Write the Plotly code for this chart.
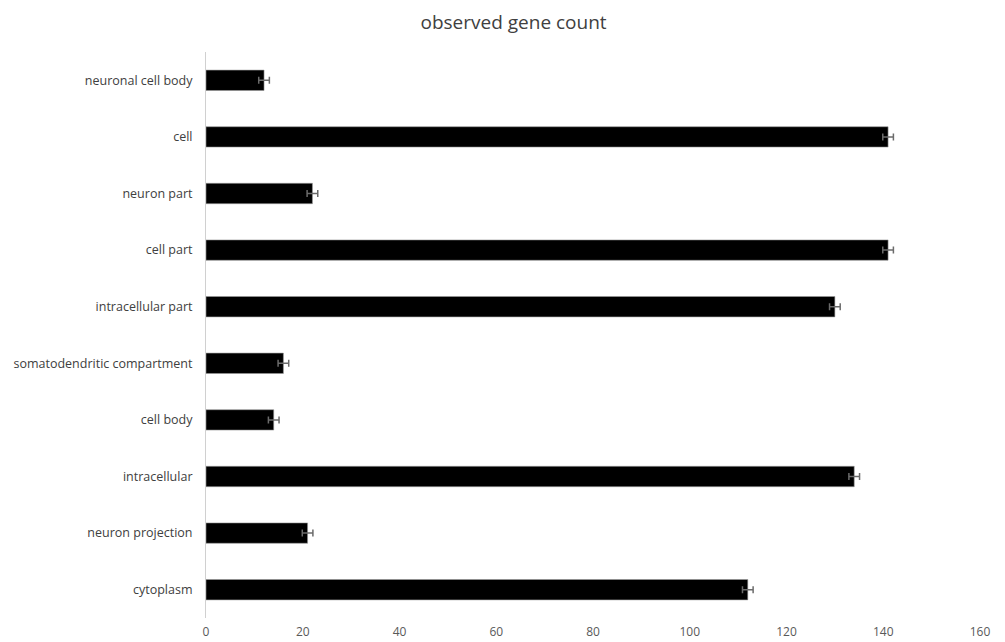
import plotly.graph_objects as go

# GO cellular-component terms, listed bottom to top
terms = [
    "cytoplasm",
    "neuron projection",
    "intracellular",
    "cell body",
    "somatodendritic compartment",
    "intracellular part",
    "cell part",
    "neuron part",
    "cell",
    "neuronal cell body",
]
gene_counts = [112, 21, 134, 14, 16, 130, 141, 22, 141, 12]
count_errors = [1.1, 1.1, 1.1, 1.1, 1.1, 1.1, 1.1, 1.1, 1.1, 1.1]
x_ticks = [0, 20, 40, 60, 80, 100, 120, 140, 160]

fig = go.Figure(
    go.Bar(
        x=gene_counts,
        y=terms,
        orientation="h",
        marker=dict(color="#000000", line=dict(color="#9a9a9a", width=0.6)),
        error_x=dict(
            type="data",
            array=count_errors,
            color="#6b6b6b",
            thickness=1.5,
            width=3.5,
        ),
    )
)

fig.update_layout(
    width=1005,
    height=642,
    paper_bgcolor="white",
    plot_bgcolor="white",
    margin=dict(l=206, r=25, t=52, b=24, autoexpand=False),
    bargap=0.64,
    showlegend=False,
    title=dict(
        text="observed gene count",
        x=0.511,
        xanchor="center",
        y=0.965,
        yanchor="middle",
        font=dict(family="Open Sans", size=19, color="#404040"),
    ),
    font=dict(family="Open Sans", size=11, color="#595959"),
)

fig.update_xaxes(
    range=[0, 160],
    tickvals=x_ticks,
    ticktext=[str(v) for v in x_ticks],
    showgrid=False,
    zeroline=False,
    showline=False,
    ticks="",
    automargin=False,
    ticklabelstandoff=5,
    tickfont=dict(size=12, color="#595959"),
)

fig.update_yaxes(
    categoryorder="array",
    categoryarray=terms,
    showgrid=False,
    showline=True,
    linecolor="#d0d0d0",
    linewidth=1,
    ticks="",
    automargin=False,
    ticklabelstandoff=10,
    tickfont=dict(size=12.5, color="#404040"),
)

fig.write_html("out.html")
